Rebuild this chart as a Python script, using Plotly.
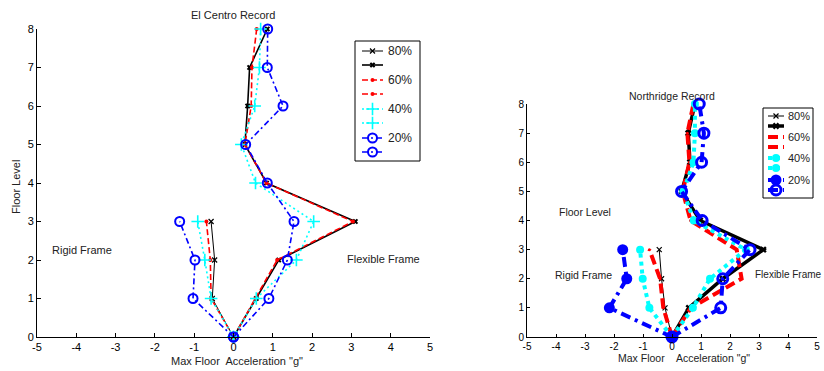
import plotly.graph_objects as go

# ---------------- data ----------------
floors_rigid = [0, 1, 2, 3]
floors_flex = [0, 1, 2, 3, 4, 5, 6, 7, 8]
pct_labels = ["80%", "60%", "40%", "20%"]

# El Centro record: max floor acceleration (g)
ec_rigid_80 = [0, -0.54, -0.48, -0.57]
ec_flex_80 = [0, 0.58, 1.15, 3.10, 0.84, 0.29, 0.36, 0.41, 0.86]
ec_rigid_60 = [0, -0.57, -0.59, -0.69]
ec_flex_60 = [0, 0.56, 1.11, 3.04, 0.84, 0.29, 0.45, 0.47, 0.59]
ec_rigid_40 = [0, -0.57, -0.73, -0.91]
ec_flex_40 = [0, 0.58, 1.60, 2.04, 0.56, 0.20, 0.54, 0.66, 0.69]
ec_rigid_20 = [0, -1.03, -0.98, -1.37]
ec_flex_20 = [0, 0.90, 1.37, 1.54, 0.86, 0.31, 1.26, 0.86, 0.87]

# Northridge record: max floor acceleration (g)
nr_rigid_80 = [0, -0.24, -0.36, -0.44]
nr_flex_80 = [0, 0.58, 1.75, 3.15, 0.97, 0.33, 0.62, 0.56, 0.79]
nr_rigid_60 = [0, -0.30, -0.41, -0.78]
nr_flex_60 = [0, 0.65, 2.40, 2.23, 0.64, 0.37, 0.60, 0.53, 0.74]
nr_rigid_40 = [0, -0.78, -1.01, -1.10]
nr_flex_40 = [0, 0.72, 1.31, 2.55, 0.75, 0.39, 0.74, 0.79, 0.79]
nr_rigid_20 = [0, -2.16, -1.56, -1.70]
nr_flex_20 = [0, 1.68, 1.75, 2.69, 1.04, 0.33, 1.02, 1.10, 0.94]

x_ticks = [-5, -4, -3, -2, -1, 0, 1, 2, 3, 4, 5]
x_tick_text = ["-5", "-4", "-3", "-2", "-1", "0", "1", "2", "3", "4", "5"]
y_ticks = [0, 1, 2, 3, 4, 5, 6, 7, 8]
y_tick_text = ["0", "1", "2", "3", "4", "5", "6", "7", "8"]

# ---------------- figure geometry (pixels) ----------------
W, H = 824, 371
FONT = "Arial, Liberation Sans, sans-serif"
TXT = "#222222"


def fx(p):
    return p / W


def fy(p):
    return 1 - p / H


# line / marker styles: one per legend entry (rigid, flexible) x percentage
left_styles = [
    dict(color="black", width=1, dash="solid", symbol="x-thin", size=5, mlw=1.2),
    dict(color="black", width=1.6, dash="solid", symbol="x", size=5, mlw=0),
    dict(color="red", width=1.6, dash="6px,3px", symbol="circle", size=4, mlw=0),
    dict(color="red", width=1.6, dash="6px,3px", symbol="circle", size=4, mlw=0),
    dict(color="cyan", width=1.6, dash="2px,3px", symbol="cross-thin", size=9, mlw=1.6),
    dict(color="cyan", width=1.6, dash="2px,3px", symbol="cross-thin", size=9, mlw=1.6),
    dict(color="blue", width=1.6, dash="6px,3px,2px,3px", symbol="circle-open", size=9, mlw=2),
    dict(color="blue", width=1.6, dash="6px,3px,2px,3px", symbol="circle-open", size=9, mlw=2),
]
right_styles = [
    dict(color="black", width=1, dash="solid", symbol="x-thin", size=5, mlw=1.2),
    dict(color="black", width=3.5, dash="solid", symbol="x", size=6, mlw=0),
    dict(color="red", width=4, dash="10px,5px", symbol="circle", size=3, mlw=0),
    dict(color="red", width=4, dash="10px,5px", symbol="circle", size=3, mlw=0),
    dict(color="cyan", width=4, dash="4px,4px", symbol="circle", size=8, mlw=0),
    dict(color="cyan", width=4, dash="4px,4px", symbol="circle", size=8, mlw=0),
    dict(color="blue", width=4, dash="10px,5px,3px,5px", symbol="circle", size=11, mlw=0),
    dict(color="blue", width=4, dash="10px,5px,3px,5px", symbol="circle-open", size=10, mlw=3),
]

left_series = [ec_rigid_80, ec_flex_80, ec_rigid_60, ec_flex_60,
               ec_rigid_40, ec_flex_40, ec_rigid_20, ec_flex_20]
right_series = [nr_rigid_80, nr_flex_80, nr_rigid_60, nr_flex_60,
                nr_rigid_40, nr_flex_40, nr_rigid_20, nr_flex_20]

fig = go.Figure()


def add_series(series, styles, xa, ya):
    for i, (vals, st) in enumerate(zip(series, styles)):
        floors = floors_rigid if i % 2 == 0 else floors_flex
        fig.add_trace(go.Scatter(
            x=vals, y=floors, mode="lines+markers",
            line=dict(color=st["color"], width=st["width"], dash=st["dash"]),
            marker=dict(symbol=st["symbol"], size=st["size"], color=st["color"],
                        line=dict(color=st["color"], width=st["mlw"])),
            xaxis=xa, yaxis=ya, showlegend=False, cliponaxis=False,
            hoverinfo="x+y",
        ))


add_series(left_series, left_styles, "x", "y")
add_series(right_series, right_styles, "x2", "y2")


# ---------------- legends (drawn on a full-page overlay axis) ----------------
def add_legend(styles, box, rows, x0, x1, xt, fsize):
    bx0, by0, bx1, by1 = box
    fig.add_shape(type="rect", xref="x3", yref="y3", x0=bx0, y0=by0, x1=bx1, y1=by1,
                  line=dict(color="black", width=1), fillcolor="rgba(0,0,0,0)",
                  layer="above")
    for i, (st, ry) in enumerate(zip(styles, rows)):
        fig.add_trace(go.Scatter(
            x=[x0, x1], y=[ry, ry], mode="lines",
            line=dict(color=st["color"], width=st["width"], dash=st["dash"]),
            xaxis="x3", yaxis="y3", showlegend=False, hoverinfo="skip"))
        fig.add_trace(go.Scatter(
            x=[(x0 + x1) / 2], y=[ry], mode="markers",
            marker=dict(symbol=st["symbol"], size=st["size"], color=st["color"],
                        line=dict(color=st["color"], width=st["mlw"])),
            xaxis="x3", yaxis="y3", showlegend=False, hoverinfo="skip"))
        if i % 2 == 0:
            fig.add_annotation(x=xt, y=ry, xref="x3", yref="y3", text=pct_labels[i // 2],
                               showarrow=False, xanchor="left", yanchor="middle",
                               font=dict(family=FONT, size=fsize, color=TXT))


add_legend(left_styles, (355, 41, 420, 161), [51, 65, 80, 94, 109, 123, 138, 152],
           362, 383, 386, 12)
add_legend(right_styles, (763, 108, 813, 198), [116, 126, 137, 147, 158, 168, 180, 190],
           768, 784, 786, 11)


# ---------------- text labels ----------------
def text(s, x, y, size, anchor="center", angle=0):
    fig.add_annotation(x=fx(x), y=fy(y), xref="paper", yref="paper", text=s,
                       showarrow=False, xanchor=anchor, yanchor="middle", textangle=angle,
                       font=dict(family=FONT, size=size, color=TXT))


text("El Centro Record", 233, 15, 11)
text("Max Floor&nbsp; Acceleration \"g\"", 237, 361, 11)
text("Floor Level", 16, 187, 11, angle=-90)
text("Rigid Frame", 82, 250, 11)
text("Flexible Frame", 383, 259, 11)

text("Northridge Record", 672, 96, 10.5)
text("Floor Level", 585, 212, 10.5)
text("Rigid Frame", 583, 275, 10.5)
text("Flexible Frame", 753, 274, 10, anchor="left")
text("Max Floor", 641, 358, 10.5)
text("Acceleration \"g\"", 713, 358, 10.5)

# ---------------- axes ----------------
axis_common = dict(showgrid=False, zeroline=False, showline=True, linecolor="black",
                   linewidth=1, ticks="inside", tickcolor="black", tickwidth=1,
                   mirror=False, automargin=False)

fig.update_layout(
    template="none",
    width=W, height=H,
    margin=dict(l=0, r=0, t=0, b=0, pad=0),
    paper_bgcolor="white", plot_bgcolor="rgba(0,0,0,0)",
    showlegend=False,
    font=dict(family=FONT, color="black"),
    xaxis=dict(domain=[fx(37), fx(430)], range=[-5, 5], tickvals=x_ticks,
               ticktext=x_tick_text, ticklen=4,
               tickfont=dict(size=11, color="black"), anchor="y", **axis_common),
    yaxis=dict(domain=[fy(337), fy(29)], range=[0, 8], tickvals=y_ticks,
               ticktext=y_tick_text, ticklen=4,
               tickfont=dict(size=11, color="black"), anchor="x", **axis_common),
    xaxis2=dict(domain=[fx(527), fx(817)], range=[-5, 5], tickvals=x_ticks,
                ticktext=x_tick_text, ticklen=3,
                tickfont=dict(size=10, color="black"), anchor="y2", **axis_common),
    yaxis2=dict(domain=[fy(337), fy(104)], range=[0, 8], tickvals=y_ticks,
                ticktext=y_tick_text, ticklen=3,
                tickfont=dict(size=10, color="black"), anchor="x2", **axis_common),
    xaxis3=dict(domain=[0, 1], range=[0, W], visible=False, anchor="y3",
                fixedrange=True, automargin=False),
    yaxis3=dict(domain=[0, 1], range=[H, 0], visible=False, anchor="x3",
                fixedrange=True, automargin=False),
)

fig.write_html("out.html")
